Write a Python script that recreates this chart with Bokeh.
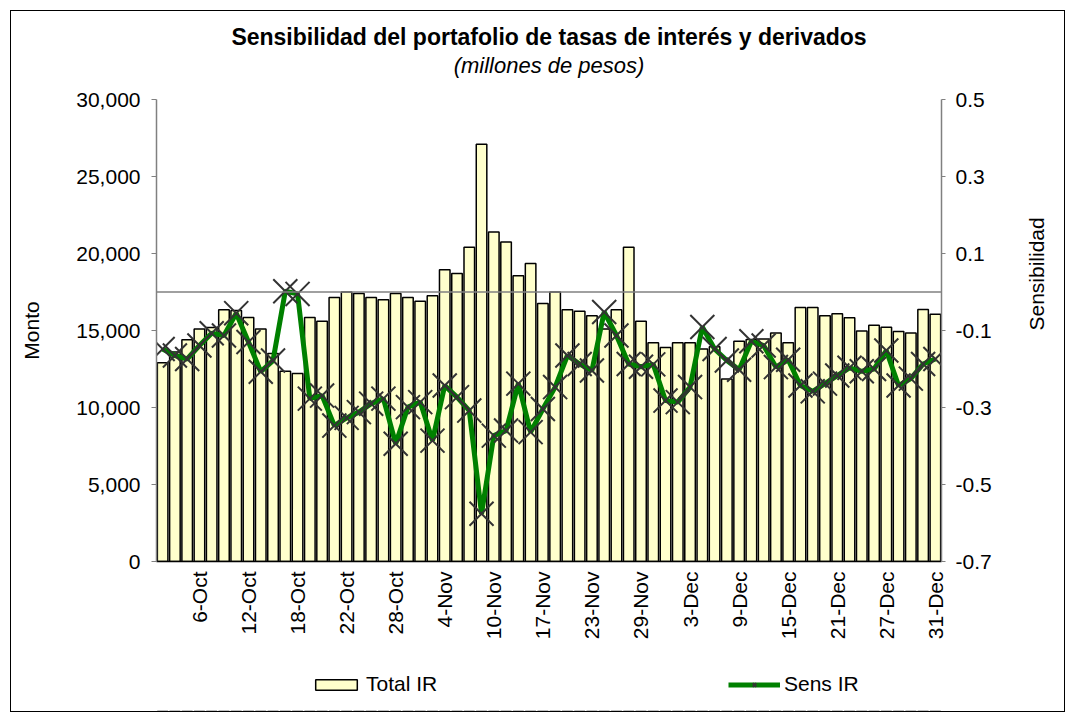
from bokeh.plotting import figure
from bokeh.layouts import column
from bokeh.models import (Range1d, LinearAxis, FixedTicker, NumeralTickFormatter, Span,
                          Legend, LegendItem, Label, ColumnDataSource)
from bokeh.embed import file_html
from bokeh.resources import INLINE

dates = ["1-Oct", "2-Oct", "5-Oct", "6-Oct", "7-Oct", "8-Oct", "9-Oct", "12-Oct",
         "13-Oct", "14-Oct", "16-Oct", "18-Oct", "19-Oct", "20-Oct", "21-Oct", "22-Oct",
         "23-Oct", "26-Oct", "27-Oct", "28-Oct", "29-Oct", "30-Oct", "3-Nov", "4-Nov",
         "5-Nov", "6-Nov", "9-Nov", "10-Nov", "11-Nov", "12-Nov", "13-Nov", "17-Nov",
         "18-Nov", "19-Nov", "20-Nov", "23-Nov", "24-Nov", "25-Nov", "26-Nov", "29-Nov",
         "30-Nov", "1-Dec", "2-Dec", "3-Dec", "4-Dec", "7-Dec", "8-Dec", "9-Dec",
         "10-Dec", "11-Dec", "14-Dec", "15-Dec", "16-Dec", "17-Dec", "18-Dec", "21-Dec",
         "22-Dec", "23-Dec", "24-Dec", "27-Dec", "28-Dec", "29-Dec", "30-Dec", "31-Dec"]

total_ir = [12900, 13600, 14400, 15100, 15200, 16350, 16300, 15850,
            15100, 13500, 12350, 12200, 15850, 15600, 17150, 17500,
            17400, 17150, 17000, 17400, 17150, 16900, 17250, 18950,
            18700, 20400, 27100, 21400, 20750, 18550, 19350, 16750,
            17500, 16350, 16250, 15950, 15100, 16350, 20400, 15600,
            14200, 13900, 14200, 14200, 13800, 13950, 11850, 14300,
            14420, 14450, 14830, 14200, 16500, 16500, 15960, 16080,
            15820, 14960, 15340, 15210, 14940, 14840, 16360, 16060]

sens_ir = [-0.148, -0.165, -0.174, -0.139, -0.107, -0.113, -0.055, -0.130,
           -0.207, -0.178, 0.002, -0.005, -0.277, -0.269, -0.347, -0.327,
           -0.312, -0.290, -0.277, -0.394, -0.299, -0.286, -0.386, -0.243,
           -0.273, -0.308, -0.576, -0.373, -0.360, -0.238, -0.364, -0.304,
           -0.247, -0.165, -0.187, -0.204, -0.052, -0.113, -0.187, -0.194,
           -0.188, -0.282, -0.286, -0.247, -0.091, -0.148, -0.178, -0.202,
           -0.128, -0.139, -0.195, -0.176, -0.243, -0.258, -0.238, -0.217,
           -0.197, -0.206, -0.200, -0.152, -0.243, -0.225, -0.187, -0.174]

shown_labels = ["6-Oct", "12-Oct", "18-Oct", "22-Oct", "28-Oct", "4-Nov", "10-Nov", "17-Nov",
                "23-Nov", "29-Nov", "3-Dec", "9-Dec", "15-Dec", "21-Dec", "27-Dec", "31-Dec"]

left_ticks = [0, 5000, 10000, 15000, 20000, 25000, 30000]
right_ticks = [-0.7, -0.5, -0.3, -0.1, 0.1, 0.3, 0.5]

title_text = "Sensibilidad del portafolio de tasas de interés y derivados"
subtitle_text = "(millones de pesos)"

FONT = "Liberation Sans"

idx = list(range(len(dates)))
src = ColumnDataSource(dict(x=idx, total=total_ir, sens=sens_ir, date=dates))

W = 1053
HEAD = 68
FOOT = 68


def bare(height, x_range, y_range):
    f = figure(width=W, height=height, output_backend="svg", toolbar_location=None,
               x_range=x_range, y_range=y_range,
               x_axis_location=None, y_axis_location=None,
               min_border_left=0, min_border_right=0, min_border_top=0, min_border_bottom=0)
    f.outline_line_color = None
    f.xgrid.grid_line_color = None
    f.ygrid.grid_line_color = None
    f.background_fill_color = "white"
    f.border_fill_color = "white"
    return f


# header with title and subtitle
p0 = bare(HEAD, Range1d(0, 1), Range1d(HEAD, 0))
p0.add_layout(Label(x=0.5, y=25, text=title_text, text_font=FONT, text_font_size="23px",
                    text_font_style="bold", text_color="#000000",
                    text_align="center", text_baseline="middle"))
p0.add_layout(Label(x=0.5, y=54, text=subtitle_text, text_font=FONT, text_font_size="22px",
                    text_font_style="italic", text_color="#000000",
                    text_align="center", text_baseline="middle"))

# main chart
p = figure(width=W, height=632 - HEAD, output_backend="svg", toolbar_location=None,
           x_range=Range1d(-0.5, len(dates) - 0.5), y_range=Range1d(0, 30000),
           min_border_left=145, min_border_right=123, min_border_top=20, min_border_bottom=82)
p.extra_y_ranges = {"sens": Range1d(-0.7, 0.5)}
p.outline_line_color = None
p.xgrid.grid_line_color = None
p.ygrid.grid_line_color = None
p.background_fill_color = "white"
p.border_fill_color = "white"

bar_style = dict(fill_color="#FFFFCC", line_color="#000000", line_width=1.5)
line_style = dict(line_color="#008000", line_width=5)
mark_style = dict(marker="x", size=34, line_color="#333333", line_width=2)

bars = p.vbar(x="x", top="total", width=0.86, source=src, **bar_style)

zero = Span(location=0, dimension="width", y_range_name="sens", line_color="#808080", line_width=1.5)
p.add_layout(zero)

ln = p.line(x="x", y="sens", source=src, y_range_name="sens", **line_style)
mk = p.scatter(x="x", y="sens", source=src, y_range_name="sens", **mark_style)

# x axis
xa = p.xaxis[0]
tick_pos = [dates.index(d) for d in shown_labels]
xa.ticker = FixedTicker(ticks=tick_pos)
xa.major_label_overrides = {i: d for i, d in zip(tick_pos, shown_labels)}
xa.major_label_orientation = 1.5707963
xa.major_label_text_font = FONT
xa.major_label_text_font_size = "21px"
xa.major_label_text_color = "#000000"
xa.major_tick_line_color = None
xa.minor_tick_line_color = None
xa.axis_line_color = "#000000"
xa.axis_line_width = 1.5
xa.major_label_standoff = 4

# left axis
ya = p.yaxis[0]
ya.ticker = FixedTicker(ticks=left_ticks)
ya.formatter = NumeralTickFormatter(format="0,0")
ya.axis_label = "Monto"
ya.axis_label_text_font = FONT
ya.axis_label_text_font_size = "21px"
ya.axis_label_text_font_style = "normal"
ya.axis_label_text_color = "#000000"
ya.axis_label_standoff = 30
ya.major_label_text_font = FONT
ya.major_label_text_font_size = "21px"
ya.major_label_text_color = "#000000"
ya.axis_line_color = "#808080"
ya.axis_line_width = 1.5
ya.major_tick_line_color = "#808080"
ya.major_tick_out = 5
ya.major_tick_in = 0
ya.minor_tick_line_color = None
ya.major_label_standoff = 11

# right axis
ra = LinearAxis(y_range_name="sens", ticker=FixedTicker(ticks=right_ticks),
                formatter=NumeralTickFormatter(format="0.0"))
ra.axis_label = "Sensibilidad"
ra.axis_label_text_font = FONT
ra.axis_label_text_font_size = "21px"
ra.axis_label_text_font_style = "normal"
ra.axis_label_text_color = "#000000"
ra.axis_label_standoff = 42
if "axis_label_orientation" in ra.properties():
    ra.axis_label_orientation = 1.5707963
ra.major_label_text_font = FONT
ra.major_label_text_font_size = "21px"
ra.major_label_text_color = "#000000"
ra.axis_line_color = "#808080"
ra.axis_line_width = 1.5
ra.major_tick_line_color = "#808080"
ra.major_tick_out = 4
ra.major_tick_in = 0
ra.minor_tick_line_color = None
ra.major_label_standoff = 10
p.add_layout(ra, "right")

# legend strip: the same series on ranges that keep them outside the view (below it),
# so only the legend keys are visible
p2 = bare(FOOT, Range1d(-0.5, len(dates) - 0.5), Range1d(40000, 70000))
p2.extra_y_ranges = {"sens2": Range1d(1.0, 2.0)}
b2 = p2.vbar(x="x", top="total", width=0.86, source=src, **bar_style)
l2 = p2.line(x="x", y="sens", source=src, y_range_name="sens2", **line_style)
m2 = p2.scatter(x="x", y="sens", source=src, y_range_name="sens2", **mark_style)

legend = Legend(items=[LegendItem(label="Total IR", renderers=[b2]),
                       LegendItem(label="Sens IR", renderers=[l2, m2])],
                orientation="horizontal", location=(154, 15),
                glyph_width=52, glyph_height=13, label_text_font=FONT, label_text_font_size="21px",
                label_text_color="#000000",
                label_width=74, spacing=288, label_standoff=4,
                border_line_color=None, background_fill_alpha=0, padding=0, margin=0)
p2.add_layout(legend, "center")

layout = column(p0, p, p2, spacing=0,
                styles={"border": "1px solid #000000", "margin": "10px 0 0 10px"})

open("out.html", "w").write(file_html(layout, INLINE))
